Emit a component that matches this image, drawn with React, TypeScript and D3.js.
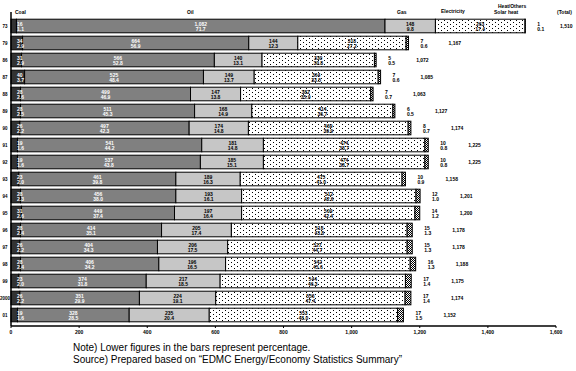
import { useEffect } from "react";
import * as d3 from "d3";

// rows, top to bottom
const years = ["73", "79", "86", "87", "88", "89", "90", "91", "92", "93", "94", "95", "96", "97", "98", "99", "2000", "01"];

// consumption by source (same order as years)
const coal = [16, 34, 31, 40, 28, 28, 26, 19, 19, 23, 28, 31, 28, 26, 28, 23, 26, 19];
const oil = [1082, 664, 566, 525, 499, 511, 497, 541, 537, 461, 456, 449, 414, 404, 406, 374, 351, 328];
const gas = [148, 144, 140, 149, 147, 168, 174, 181, 185, 189, 193, 197, 205, 206, 196, 217, 224, 235];
const electricity = [263, 318, 330, 364, 382, 414, 469, 474, 474, 475, 512, 509, 516, 527, 542, 544, 556, 553];
const other = [1, 7, 5, 7, 7, 6, 8, 10, 10, 10, 12, 14, 15, 15, 16, 17, 17, 17];

const sourceKeys = ["coal", "oil", "gas", "electricity", "other"];
const xTicks = [0, 200, 400, 600, 800, 1000, 1200, 1400, 1600];

const fills = ["#333333", "#808080", "#c6c6c6", "url(#dots)", "url(#check)"];
const textColors = ["#fff", "#fff", "#000", "#000", "#000"];

export default function App() {
  useEffect(() => {
    document.body.style.margin = "0";
  }, []);

  const width = 576;
  const height = 371;

  /* ---------------- SCALES ---------------- */
  const x = d3.scaleLinear().domain([0, 1600]).range([11, 556]);
  const y = d3
    .scaleBand<string>()
    .domain(years)
    .range([17.5, 323.5])
    .paddingInner(0.2)
    .paddingOuter(0.1);

  const table = years.map((year, i) => ({
    year,
    coal: coal[i],
    oil: oil[i],
    gas: gas[i],
    electricity: electricity[i],
    other: other[i],
  }));
  const series = d3.stack<any>().keys(sourceKeys)(table);
  const totals = table.map(d => d.coal + d.oil + d.gas + d.electricity + d.other);

  const fmt = d3.format(",");
  const pct = (v: number, t: number) => ((v / t) * 100).toFixed(1);
  const bw = y.bandwidth();
  const small = { fontFamily: "Liberation Sans, Arial, sans-serif", fontSize: 5, fontWeight: 700 } as const;

  return (
    <svg width={width} height={height} style={{ display: "block", background: "#fff" }}>
      <defs>
        <pattern id="dots" width="6" height="4" patternUnits="userSpaceOnUse">
          <rect width="6" height="4" fill="#fff" />
          <rect x="0" y="0" width="1" height="1" fill="#000" />
          <rect x="3" y="2" width="1" height="1" fill="#000" />
        </pattern>
        <pattern id="check" width="2" height="2" patternUnits="userSpaceOnUse">
          <rect width="2" height="2" fill="#fff" />
          <rect x="0" y="0" width="1" height="1" fill="#000" />
          <rect x="1" y="1" width="1" height="1" fill="#000" />
        </pattern>
      </defs>

      {/* header labels */}
      <g style={small}>
        <text x={15} y={14}>Coal</text>
        <text x={187} y={14}>Oil</text>
        <text x={397} y={14}>Gas</text>
        <text x={441} y={13}>Electricity</text>
        <text x={498} y={8}>Heat/Others</text>
        <text x={494} y={14}>Solar heat</text>
        <text x={557} y={14}>(Total)</text>
      </g>

      {/* bars */}
      {series.map((s, k) => (
        <g key={s.key}>
          {s.map((d, i) => (
            <rect
              key={i}
              x={x(d[0])}
              y={y(years[i])}
              width={x(d[1]) - x(d[0])}
              height={bw}
              fill={fills[k]}
              stroke="#000"
              strokeWidth={1}
            />
          ))}
        </g>
      ))}

      {/* labels in the bars */}
      {series.slice(0, 4).map((s, k) => (
        <g key={s.key} style={small} fill={textColors[k]}>
          {s.map((d, i) => {
            const cy = y(years[i])! + bw / 2;
            const v = d[1] - d[0];
            const cx = k === 0 ? x(d[0]) + 6 : (x(d[0]) + x(d[1])) / 2;
            const anchor = k === 0 ? "start" : "middle";
            return (
              <g key={i}>
                <text x={cx} y={cy - 0.5} textAnchor={anchor}>{fmt(v)}</text>
                <text x={cx} y={cy + 5} textAnchor={anchor}>{pct(v, totals[i])}</text>
              </g>
            );
          })}
        </g>
      ))}

      {/* other + total outside the bars */}
      <g style={small}>
        {table.map((d, i) => {
          const end = x(totals[i]);
          const cy = y(d.year)! + bw / 2;
          return (
            <g key={d.year}>
              <text x={end + 12} y={cy - 0.5}>{fmt(d.other)}</text>
              <text x={end + 12} y={cy + 5}>{pct(d.other, totals[i])}</text>
              <text x={Math.min(end + 40, 560)} y={cy + 1.5}>{fmt(totals[i])}</text>
            </g>
          );
        })}
      </g>

      {/* category axis */}
      <line x1={11} x2={11} y1={12} y2={326} stroke="#000" strokeWidth={1.5} />
      <g style={{ ...small, fontSize: 4.5 }}>
        {years.map(yr => (
          <text key={yr} x={5} y={y(yr)! + bw / 2 + 2} textAnchor="middle">{yr}</text>
        ))}
      </g>

      {/* value axis */}
      <line x1={11} x2={556} y1={326} y2={326} stroke="#000" strokeWidth={1.5} />
      <g style={small}>
        {xTicks.map(t => (
          <g key={t}>
            <line x1={x(t)} x2={x(t)} y1={326} y2={328} stroke="#000" />
            <text x={x(t)} y={334} textAnchor="middle">{fmt(t)}</text>
          </g>
        ))}
      </g>

      {/* notes */}
      <g style={{ fontFamily: "Liberation Sans, Arial, sans-serif", fontSize: 10 }}>
        <text x={73} y={351}>Note) Lower figures in the bars represent percentage.</text>
        <text x={73} y={363}>Source) Prepared based on “EDMC Energy/Economy Statistics Summary”</text>
      </g>
    </svg>
  );
}
